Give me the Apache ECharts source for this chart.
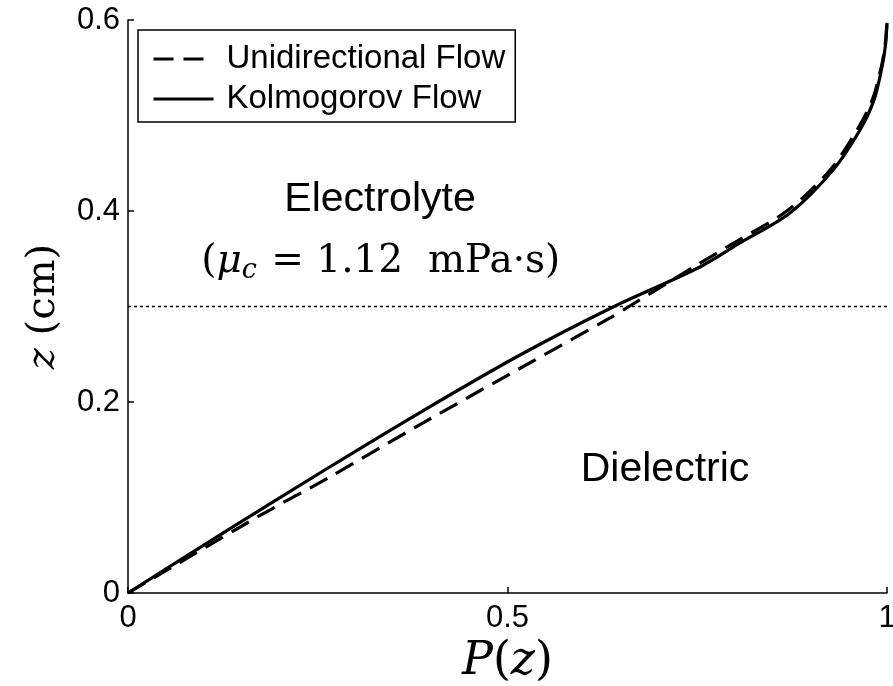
<!DOCTYPE html>
<html>
<head>
<meta charset="utf-8">
<script src="https://cdn.jsdelivr.net/npm/echarts@6/dist/echarts.min.js"></script>
<style>
  html, body { margin: 0; padding: 0; background: #fff; }
  #chart { width: 893px; height: 686px; }
</style>
</head>
<body>
<div id="chart"></div>
<script>
// Unidirectional flow, P(z) against z
var uniP = [0, 0.1752, 0.2635, 0.3847, 0.5125, 0.635, 0.66, 0.75, 0.8025, 0.868, 0.925, 0.9605, 0.9805, 0.9925, 0.9975, 1.0];
var uniZ = [0, 0.0817, 0.1204, 0.1763, 0.2335, 0.288, 0.3, 0.3436, 0.3685, 0.4, 0.4429, 0.4848, 0.5162, 0.5508, 0.5738, 0.598];
// Kolmogorov flow
var kolP = [0, 0.1318, 0.2635, 0.3847, 0.5165, 0.639, 0.7536, 0.8063, 0.8722, 0.9289, 0.9644, 0.9829, 0.9934, 0.998, 1.0];
var kolZ = [0, 0.066, 0.1309, 0.189, 0.2492, 0.2995, 0.3414, 0.3665, 0.3979, 0.4429, 0.4848, 0.5162, 0.5508, 0.5738, 0.597];
// interface between the two fluids
var interfaceP = [0, 1];
var interfaceZ = [0.3, 0.3];
// text notes
var noteP = [0.332, 0.333, 0.7075];
var noteZ = [0.4115, 0.3466, 0.1288];
var noteText = ['{t|Electrolyte}', '{p|(}{i|μ}{s|c}{p| = 1.12  mPa·s)}', '{t|Dielectric}'];

function pairs(xs, ys) {
  var out = [];
  for (var i = 0; i < xs.length; i++) {
    out.push([xs[i], ys[i]]);
  }
  return out;
}

var notes = [];
for (var i = 0; i < noteText.length; i++) {
  notes.push({ value: [noteP[i], noteZ[i]], label: { formatter: noteText[i] } });
}

var sans = 'Liberation Sans';
var serif = 'DejaVu Serif';

var chart = echarts.init(document.getElementById('chart'), null, { renderer: 'canvas' });
var option = {
  backgroundColor: '#ffffff',
  animation: false,
  grid: { left: 128, right: 6, top: 20, bottom: 93, containLabel: false, outerBoundsMode: 'none' },
  legend: {
    left: 138,
    top: 30,
    orient: 'vertical',
    data: ['Unidirectional Flow', 'Kolmogorov Flow'],
    itemWidth: 60,
    itemHeight: 24,
    itemGap: 4,
    itemStyle: { opacity: 0 },
    lineStyle: { width: 3 },
    padding: [11, 10, 5, 14],
    borderColor: '#000',
    borderWidth: 1.5,
    borderRadius: 0,
    backgroundColor: '#fff',
    textStyle: { fontFamily: sans, fontSize: 33, lineHeight: 36, color: '#000', padding: [0, 0, 0, 8] }
  },
  xAxis: {
    type: 'value',
    min: 0,
    max: 1,
    interval: 0.5,
    name: '{i|P}{p|(}{i|z}{p|)}',
    nameLocation: 'middle',
    nameGap: 38,
    nameTextStyle: {
      rich: {
        i: { fontFamily: serif, fontStyle: 'italic', fontSize: 46, color: '#000' },
        p: { fontFamily: serif, fontSize: 46, color: '#000' }
      }
    },
    axisLine: { lineStyle: { color: '#000', width: 1.5 } },
    axisTick: { inside: true, length: 6, lineStyle: { color: '#000', width: 1.5 } },
    axisLabel: { fontFamily: sans, fontSize: 31, color: '#000', margin: 10 },
    splitLine: { show: false }
  },
  yAxis: {
    type: 'value',
    min: 0,
    max: 0.6,
    interval: 0.2,
    name: '{i|z}{p| (cm)}',
    nameLocation: 'middle',
    nameGap: 64,
    nameTextStyle: {
      rich: {
        i: { fontFamily: serif, fontStyle: 'italic', fontSize: 40, color: '#000' },
        p: { fontFamily: serif, fontSize: 40, color: '#000' }
      }
    },
    axisLine: { lineStyle: { color: '#000', width: 1.5 } },
    axisTick: { inside: true, length: 6, lineStyle: { color: '#000', width: 1.5 } },
    axisLabel: { fontFamily: sans, fontSize: 31, color: '#000', margin: 8 },
    splitLine: { show: false }
  },
  series: [
    {
      name: 'Unidirectional Flow',
      type: 'line',
      data: pairs(uniP, uniZ),
      smooth: 0.3,
      symbol: 'none',
      lineStyle: { color: '#000', width: 3.2, type: [20, 10] },
      z: 3
    },
    {
      name: 'Kolmogorov Flow',
      type: 'line',
      data: pairs(kolP, kolZ),
      smooth: 0.3,
      symbol: 'none',
      lineStyle: { color: '#000', width: 3.2 },
      z: 4
    },
    {
      name: 'interface',
      type: 'line',
      data: pairs(interfaceP, interfaceZ),
      symbol: 'none',
      lineStyle: { color: '#000', width: 1.5, type: [3, 3] },
      z: 2
    },
    {
      name: 'notes',
      type: 'scatter',
      data: notes,
      symbolSize: 0,
      itemStyle: { color: '#000', opacity: 1 },
      label: {
        show: true,
        position: 'inside',
        color: '#000',
        opacity: 1,
        textBorderWidth: 0,
        rich: {
          t: { fontFamily: sans, fontSize: 41, color: '#000', textBorderWidth: 0 },
          p: { fontFamily: serif, fontSize: 39, color: '#000', textBorderWidth: 0 },
          i: { fontFamily: serif, fontStyle: 'italic', fontSize: 39, color: '#000', textBorderWidth: 0 },
          s: { fontFamily: serif, fontStyle: 'italic', fontSize: 27, color: '#000', textBorderWidth: 0, padding: [18, 2, 0, 0] }
        }
      },
      z: 5
    }
  ]
};
chart.setOption(option);
</script>
</body>
</html>
